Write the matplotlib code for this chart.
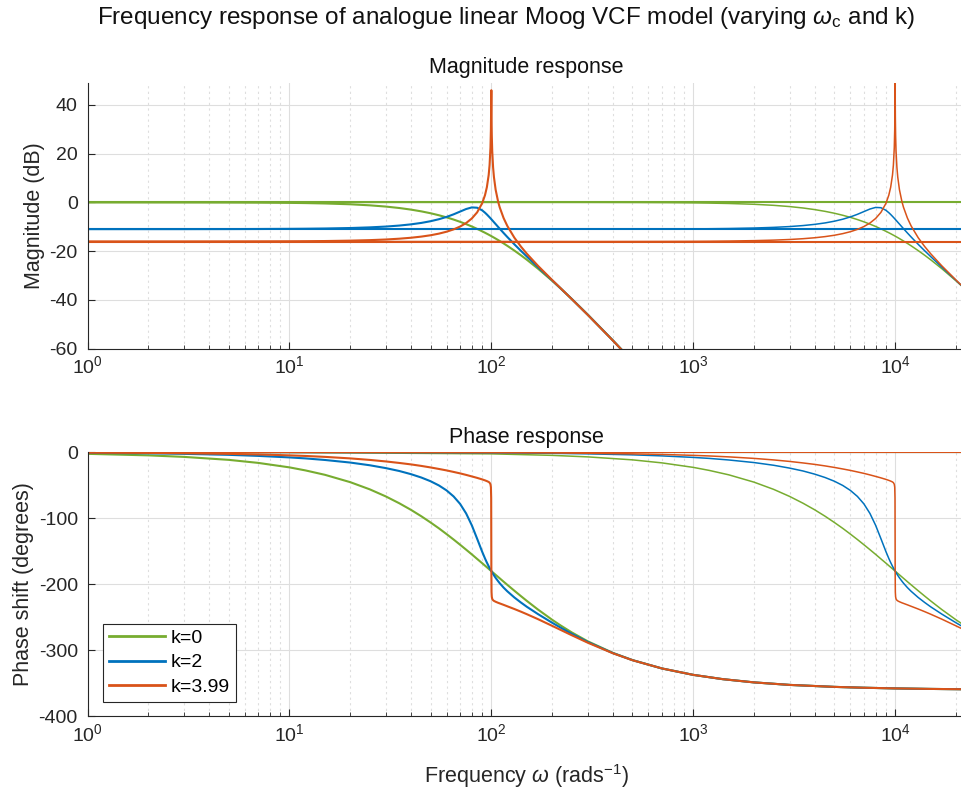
import numpy as np
import matplotlib
matplotlib.use('Agg')
import matplotlib.pyplot as plt

plt.rcParams['font.family'] = ['Liberation Sans', 'DejaVu Sans']
plt.rcParams['mathtext.fontset'] = 'custom'
plt.rcParams['mathtext.rm'] = 'Liberation Sans'
plt.rcParams['mathtext.it'] = 'Liberation Sans:italic'
plt.rcParams['axes.unicode_minus'] = False

# cutoff frequencies (rad/s) and normalised frequency w/wc
cutoffs = [100, 10000]
ratio = [0.0001, 0.001, 0.01, 0.02, 0.03, 0.05, 0.07, 0.1, 0.12, 0.15, 0.2, 0.25, 0.3, 0.35, 0.4,
         0.45, 0.5, 0.55, 0.6, 0.65, 0.7, 0.75, 0.8, 0.85, 0.9, 0.93, 0.95,
         0.97, 0.98, 0.99, 0.995, 0.998, 0.9994, 1.0, 1.002, 1.005, 1.01, 1.02, 1.03,
         1.05, 1.08, 1.1, 1.15, 1.2, 1.3, 1.4, 1.5, 1.7, 2.0, 2.205, 2.5,
         3.0, 4.0, 5.0, 7.0, 10.0, 14.0, 20.0, 30.0, 50.0, 70.0, 100.0, 150.0, 220.5]

# magnitude (dB) for k=0, k=2, k=3.99
mag_k0 = [-0.00, -0.00, -0.00, -0.01, -0.02, -0.05, -0.10, -0.20, -0.29, -0.45, -0.78, -1.21, -1.72, -2.31, -2.97,
          -3.69, -4.46, -5.29, -6.15, -7.05, -7.98, -8.93, -9.89, -10.88, -11.87, -12.46, -12.86,
          -13.26, -13.46, -13.66, -13.76, -13.82, -13.85, -13.86, -13.90, -13.96, -14.06, -14.26, -14.46,
          -14.86, -15.46, -15.86, -16.85, -17.84, -19.79, -21.70, -23.57, -27.17, -32.19, -35.37, -39.62,
          -46.05, -56.66, -65.16, -78.24, -92.30, -105.66, -119.88, -136.07, -156.49, -169.94, -184.21, -200.43, -215.84]
mag_k2 = [-10.99, -10.99, -10.99, -10.98, -10.98, -10.96, -10.93, -10.87, -10.82, -10.73, -10.53, -10.26, -9.93, -9.52, -9.02,
          -8.43, -7.73, -6.91, -5.97, -4.91, -3.78, -2.73, -2.07, -2.19, -3.25, -4.23, -4.96,
          -5.74, -6.13, -6.53, -6.73, -6.85, -6.91, -6.93, -7.01, -7.13, -7.33, -7.73, -8.13,
          -8.91, -10.06, -10.80, -12.57, -14.22, -17.21, -19.86, -22.26, -26.52, -31.99, -35.31, -39.65,
          -46.11, -56.70, -65.18, -78.25, -92.30, -105.66, -119.88, -136.07, -156.49, -169.94, -184.21, -200.43, -215.84]
mag_k399 = [-16.07, -16.07, -16.07, -16.07, -16.07, -16.05, -16.03, -15.99, -15.95, -15.87, -15.71, -15.50, -15.24, -14.91, -14.52,
            -14.05, -13.50, -12.83, -12.04, -11.09, -9.93, -8.48, -6.62, -4.11, -0.41, 2.96, 6.21,
            11.25, 15.33, 22.50, 30.01, 40.72, 49.51, 46.05, 34.88, 27.45, 21.10, 14.41, 10.38,
            5.21, 0.33, -2.04, -6.45, -9.69, -14.49, -18.12, -21.11, -26.00, -31.86, -35.28, -39.69,
            -46.17, -56.74, -65.20, -78.25, -92.31, -105.66, -119.88, -136.07, -156.49, -169.94, -184.21, -200.43, -215.84]

# phase (degrees)
ph_k0 = [-0.0, -0.2, -2.3, -4.6, -6.9, -11.4, -16.0, -22.8, -27.4, -34.1, -45.2, -56.1, -66.8, -77.2, -87.2,
         -96.9, -106.3, -115.2, -123.9, -132.1, -140.0, -147.5, -154.6, -161.5, -167.9, -171.7, -174.1,
         -176.5, -177.7, -178.8, -179.4, -179.8, -179.9, -180.0, -180.2, -180.6, -181.1, -182.3, -183.4,
         -185.6, -188.8, -190.9, -196.0, -200.8, -209.7, -217.8, -225.2, -238.1, -253.7, -262.4, -272.8,
         -286.3, -303.9, -314.8, -327.5, -337.2, -343.7, -348.6, -352.4, -355.4, -356.7, -357.7, -358.5, -359.0]
ph_k2 = [-0.0, -0.1, -0.8, -1.5, -2.3, -3.8, -5.4, -7.7, -9.2, -11.6, -15.5, -19.6, -23.9, -28.3, -33.1,
         -38.2, -43.8, -50.2, -57.7, -66.8, -78.1, -92.6, -110.5, -130.8, -150.4, -160.8, -167.0,
         -172.6, -175.2, -177.6, -178.8, -179.5, -179.9, -180.0, -180.5, -181.1, -182.2, -184.4, -186.4,
         -190.2, -195.2, -198.3, -205.0, -210.6, -219.9, -227.5, -234.1, -245.0, -258.2, -265.7, -275.0,
         -287.4, -304.2, -314.9, -327.5, -337.2, -343.7, -348.6, -352.4, -355.4, -356.7, -357.7, -358.5, -359.0]
ph_k399 = [-0.0, -0.0, -0.5, -0.9, -1.4, -2.3, -3.2, -4.6, -5.5, -6.9, -9.2, -11.5, -13.8, -16.1, -18.3,
           -20.6, -22.9, -25.2, -27.4, -29.7, -31.9, -34.2, -36.5, -38.7, -41.0, -42.5, -43.6,
           -44.9, -46.0, -48.4, -52.9, -69.4, -137.3, -180.0, -211.7, -218.9, -222.1, -224.1, -225.1,
           -226.4, -228.0, -228.9, -231.1, -233.3, -237.4, -241.4, -245.3, -252.7, -262.9, -269.1, -277.1,
           -288.4, -304.5, -315.0, -327.5, -337.2, -343.7, -348.6, -352.4, -355.4, -356.7, -357.7, -358.5, -359.0]

labels = ['k=0', 'k=2', 'k=3.99']
colors = ['#77AC30', '#0072BD', '#D95319']
mags = [mag_k0, mag_k2, mag_k399]
phases = [ph_k0, ph_k2, ph_k399]

ratio = np.array(ratio)
# the 100 rad/s sweep does not land on the very top of the resonance
peak_i = int(np.argmax(mag_k399))
keep_lo = np.arange(len(ratio)) != peak_i

fig = plt.figure(figsize=(9.62, 7.93), dpi=100)
ax1 = fig.add_axes([0.091, 0.5605, 0.9116, 0.3348])
ax2 = fig.add_axes([0.091, 0.0967, 0.9116, 0.3329])

handles = []
for lab, col, m, p in zip(labels, colors, mags, phases):
    m = np.array(m)
    p = np.array(p)
    for wc in cutoffs:
        if wc == cutoffs[0]:
            x, mm, pp, lw = wc * ratio[keep_lo], m[keep_lo], p[keep_lo], 1.5
        else:
            x, mm, pp, lw = wc * ratio, m, p, 1.1
        ax1.plot(x, mm, color=col, lw=lw)
        h, = ax2.plot(x, pp, color=col, lw=lw)
        if wc == cutoffs[0]:
            handles.append(h)
    # wrap-around segment back to DC
    ax1.axhline(m[0], color=col, lw=1.5)
    ax2.axhline(p[0], color=col, lw=1.5)

for ax in (ax1, ax2):
    ax.set_xscale('log')
    ax.set_xlim(1, 22050)
    ax.grid(True, which='major', color='#DEDEDE', lw=0.8)
    ax.grid(True, which='minor', axis='x', color='#DEDEDE', lw=0.8, linestyle=(0, (2, 3)))
    ax.set_axisbelow(True)
    ax.spines['top'].set_visible(False)
    ax.spines['right'].set_visible(False)
    for s in ('left', 'bottom'):
        ax.spines[s].set_color('#262626')
        ax.spines[s].set_linewidth(0.8)
    ax.tick_params(which='both', direction='in', colors='#262626', labelsize=14)
    ax.tick_params(which='major', length=5)
    ax.tick_params(which='minor', length=3)
    ax.tick_params(axis='y', pad=7)
    ax.tick_params(axis='x', pad=5)

ax1.set_ylim(-60, 49)
ax1.set_yticks([-60, -40, -20, 0, 20, 40])
ax1.set_ylabel('Magnitude (dB)', fontsize=15.5, color='#262626', labelpad=3)
ax1.set_title('Magnitude response', fontsize=15.5, pad=7, color='#111111')

ax2.set_ylim(-400, 0)
ax2.set_yticks([-400, -300, -200, -100, 0])
ax2.set_ylabel('Phase shift (degrees)', fontsize=15.5, color='#262626', labelpad=3)
ax2.set_title('Phase response', fontsize=15.5, pad=7, color='#111111')
ax2.set_xlabel(r'Frequency $\omega$ (rads$^{-1}$)', fontsize=15.5, color='#262626', labelpad=12)

leg = ax2.legend(handles, labels, loc='lower left', bbox_to_anchor=(0.0173, 0.0553),
                 borderaxespad=0, fontsize=14, fancybox=False, framealpha=1,
                 edgecolor='#262626', handlelength=2.9, handletextpad=0.3,
                 labelspacing=0.35, borderpad=0.3)
leg.get_frame().set_linewidth(0.8)
for lh in leg.get_lines():
    lh.set_linewidth(2)

fig.suptitle(r'Frequency response of analogue linear Moog VCF model (varying $\omega_\mathrm{c}$ and k)',
             x=0.526, y=0.977, va='center', fontsize=17.5, color='#111111')

fig.savefig('out.png', dpi=100)
